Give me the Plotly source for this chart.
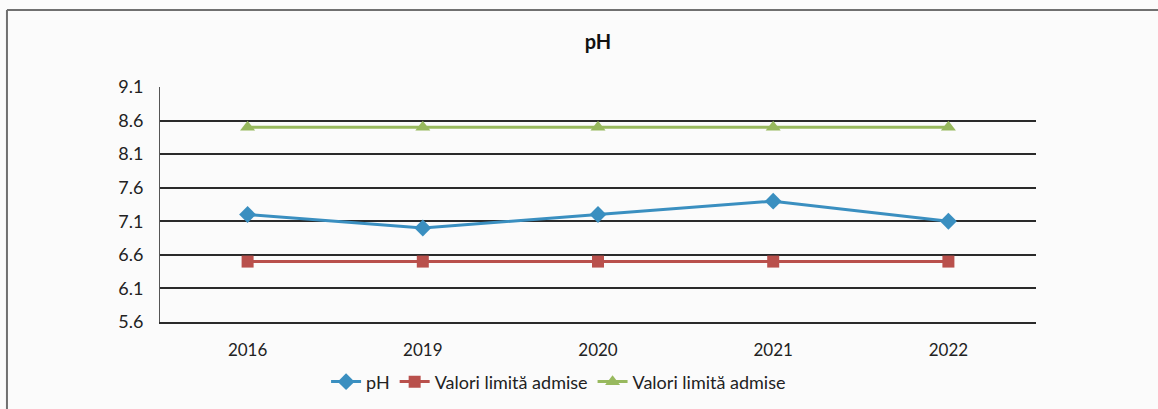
import plotly.graph_objects as go

# Sampling years and measured values
years = ["2016", "2019", "2020", "2021", "2022"]
ph_values = [7.2, 7.0, 7.2, 7.4, 7.1]
limit_low = [6.5, 6.5, 6.5, 6.5, 6.5]
limit_high = [8.5, 8.5, 8.5, 8.5, 8.5]
y_ticks = [5.6, 6.1, 6.6, 7.1, 7.6, 8.1, 8.6, 9.1]

FONT = "Lato, 'Open Sans', sans-serif"

fig = go.Figure()
fig.add_trace(go.Scatter(
    x=years, y=ph_values, name="pH", mode="lines+markers",
    line=dict(color="#3a8fc0", width=3),
    marker=dict(symbol="diamond", size=13, color="#3a8fc0"),
))
fig.add_trace(go.Scatter(
    x=years, y=limit_low, name="Valori limită admise", mode="lines+markers",
    line=dict(color="#b9504c", width=3),
    marker=dict(symbol="square", size=12, color="#b9504c"),
))
fig.add_trace(go.Scatter(
    x=years, y=limit_high, name="Valori limită admise", mode="lines+markers",
    line=dict(color="#98b95e", width=3),
    marker=dict(symbol="triangle-up", size=13, color="#98b95e"),
))

# Outer frame (top and left edges)
frame = dict(color="#707070", width=2)
fig.add_shape(type="line", xref="paper", yref="paper",
              x0=-0.1747, x1=1.2, y0=1.3277, y1=1.3277, line=frame)
fig.add_shape(type="line", xref="paper", yref="paper",
              x0=-0.1747, x1=-0.1747, y0=1.3277, y1=-0.5, line=frame)

fig.update_layout(
    width=1158, height=409,
    margin=dict(l=160, r=122, t=87, b=87, autoexpand=False),
    paper_bgcolor="#fbfbfb", plot_bgcolor="#fbfbfb",
    font=dict(family=FONT, size=18, color="#222222"),
    title=dict(text="<b>pH</b>", x=0.5, xref="paper", xanchor="center",
               y=1 - 42 / 409, yanchor="middle",
               font=dict(family=FONT, size=20, color="#111111")),
    showlegend=True,
    legend=dict(orientation="h", x=0.455, xanchor="center", y=-0.255, yanchor="middle",
                font=dict(family=FONT, size=18, color="#222222"),
                bgcolor="rgba(0,0,0,0)", itemwidth=30, tracegroupgap=0),
    xaxis=dict(type="category", range=[-0.5, 4.5], showgrid=False, automargin=False,
               showline=True, linecolor="#2a2a2a", linewidth=1.5, zeroline=False,
               ticks="", ticklabelstandoff=12, tickfont=dict(size=17)),
    yaxis=dict(range=[5.6, 9.1], tickmode="array", tickvals=y_ticks, automargin=False,
               tickformat=".1f", showgrid=True, gridcolor="#2a2a2a", gridwidth=1.5,
               showline=True, linecolor="#555555", linewidth=1, zeroline=False,
               ticks="", ticklabelstandoff=12, tickfont=dict(size=18)),
)

fig.write_html("out.html")
